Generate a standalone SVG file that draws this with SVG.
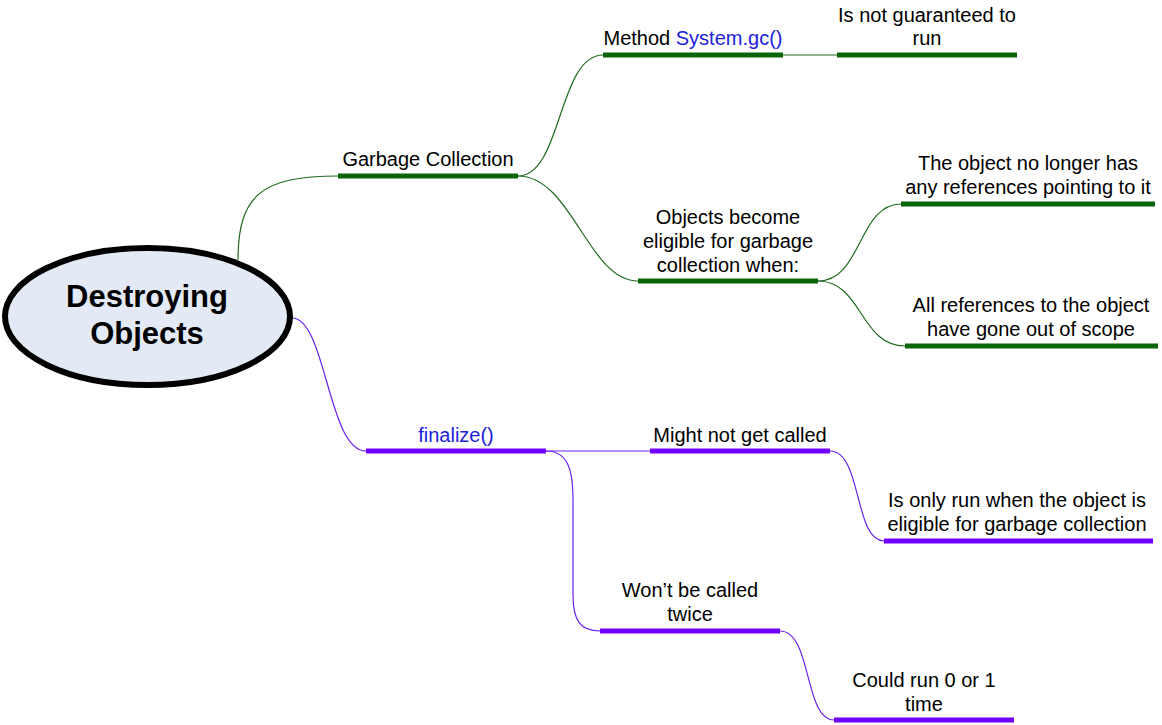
<svg xmlns="http://www.w3.org/2000/svg" width="1162" height="725" viewBox="0 0 1162 725">
<style>
text{font-family:"Liberation Sans",Arial,sans-serif;font-size:20px;fill:#000;text-anchor:middle}
.blue{fill:#2121d9}
.root{font-size:31px;font-weight:bold}
.gbar{fill:#0a650a}
.pbar{fill:#7000ff}
.gl{fill:none;stroke:#1f6a1f;stroke-width:1.2}
.pl{fill:none;stroke:#6a22ee;stroke-width:1.2}
</style>
<rect width="1162" height="725" fill="#fff"/>
<g id="connectors">
<path class="gl" d="M238,260 C238,195 262,176 338,176"/>
<path class="gl" d="M518,176 C562,176 558,55 603,55"/>
<path class="gl" d="M783,55 L837,55" stroke="#6fa56f"/>
<path class="gl" d="M518,176 C572,176 588,281 638,281"/>
<path class="gl" d="M818,281 C862,281 858,204 901,204"/>
<path class="gl" d="M818,281 C862,281 860,346 905,346"/>
<path class="pl" d="M292,318 C326,318 328,451 366,451"/>
<path class="pl" d="M546,451 L650,451"/>
<path class="pl" d="M830,451 C862,451 854,541 884,541"/>
<path class="pl" d="M546,451 C568,451 573,470 573,500 L573,595 C573,620 580,631 600,631"/>
<path class="pl" d="M780,631 C812,631 804,720 834,720"/>
</g>
<g id="root">
<ellipse cx="147.5" cy="316.5" rx="142.5" ry="68.5" fill="#e3eaf5" stroke="#000" stroke-width="6"/>
<text class="root" x="147" y="307">Destroying</text>
<text class="root" x="147" y="344">Objects</text>
</g>
<g id="gc">
<rect class="gbar" x="338" y="173.5" width="180" height="5"/>
<text x="428" y="166">Garbage Collection</text>
</g>
<g id="systemgc">
<rect class="gbar" x="603" y="52.5" width="180" height="5"/>
<text x="693" y="45">Method <tspan class="blue">System.gc()</tspan></text>
</g>
<g id="notguaranteed">
<rect class="gbar" x="837" y="52.5" width="180" height="5"/>
<text x="927" y="22">Is not guaranteed to</text>
<text x="927" y="45">run</text>
</g>
<g id="eligible">
<rect class="gbar" x="638" y="278.5" width="180" height="5"/>
<text x="728" y="224">Objects become</text>
<text x="728" y="248">eligible for garbage</text>
<text x="728" y="272">collection when:</text>
</g>
<g id="noreferences">
<rect class="gbar" x="901" y="201.5" width="254" height="5"/>
<text x="1028" y="170">The object no longer has</text>
<text x="1028" y="194">any references pointing to it</text>
</g>
<g id="outofscope">
<rect class="gbar" x="905" y="343.5" width="253" height="5"/>
<text x="1031" y="312">All references to the object</text>
<text x="1031" y="336">have gone out of scope</text>
</g>
<g id="finalize">
<rect class="pbar" x="366" y="448.5" width="180" height="5"/>
<text class="blue" x="456" y="442">finalize()</text>
</g>
<g id="mightnot">
<rect class="pbar" x="650" y="448.5" width="180" height="5"/>
<text x="740" y="442">Might not get called</text>
</g>
<g id="onlyrun">
<rect class="pbar" x="884" y="538.5" width="269" height="5"/>
<text x="1017" y="507">Is only run when the object is</text>
<text x="1017" y="531">eligible for garbage collection</text>
</g>
<g id="twice">
<rect class="pbar" x="600" y="628.5" width="180" height="5"/>
<text x="690" y="597">Won’t be called</text>
<text x="690" y="621">twice</text>
</g>
<g id="could">
<rect class="pbar" x="834" y="717.5" width="180" height="5"/>
<text x="924" y="687">Could run 0 or 1</text>
<text x="924" y="711">time</text>
</g>
</svg>
